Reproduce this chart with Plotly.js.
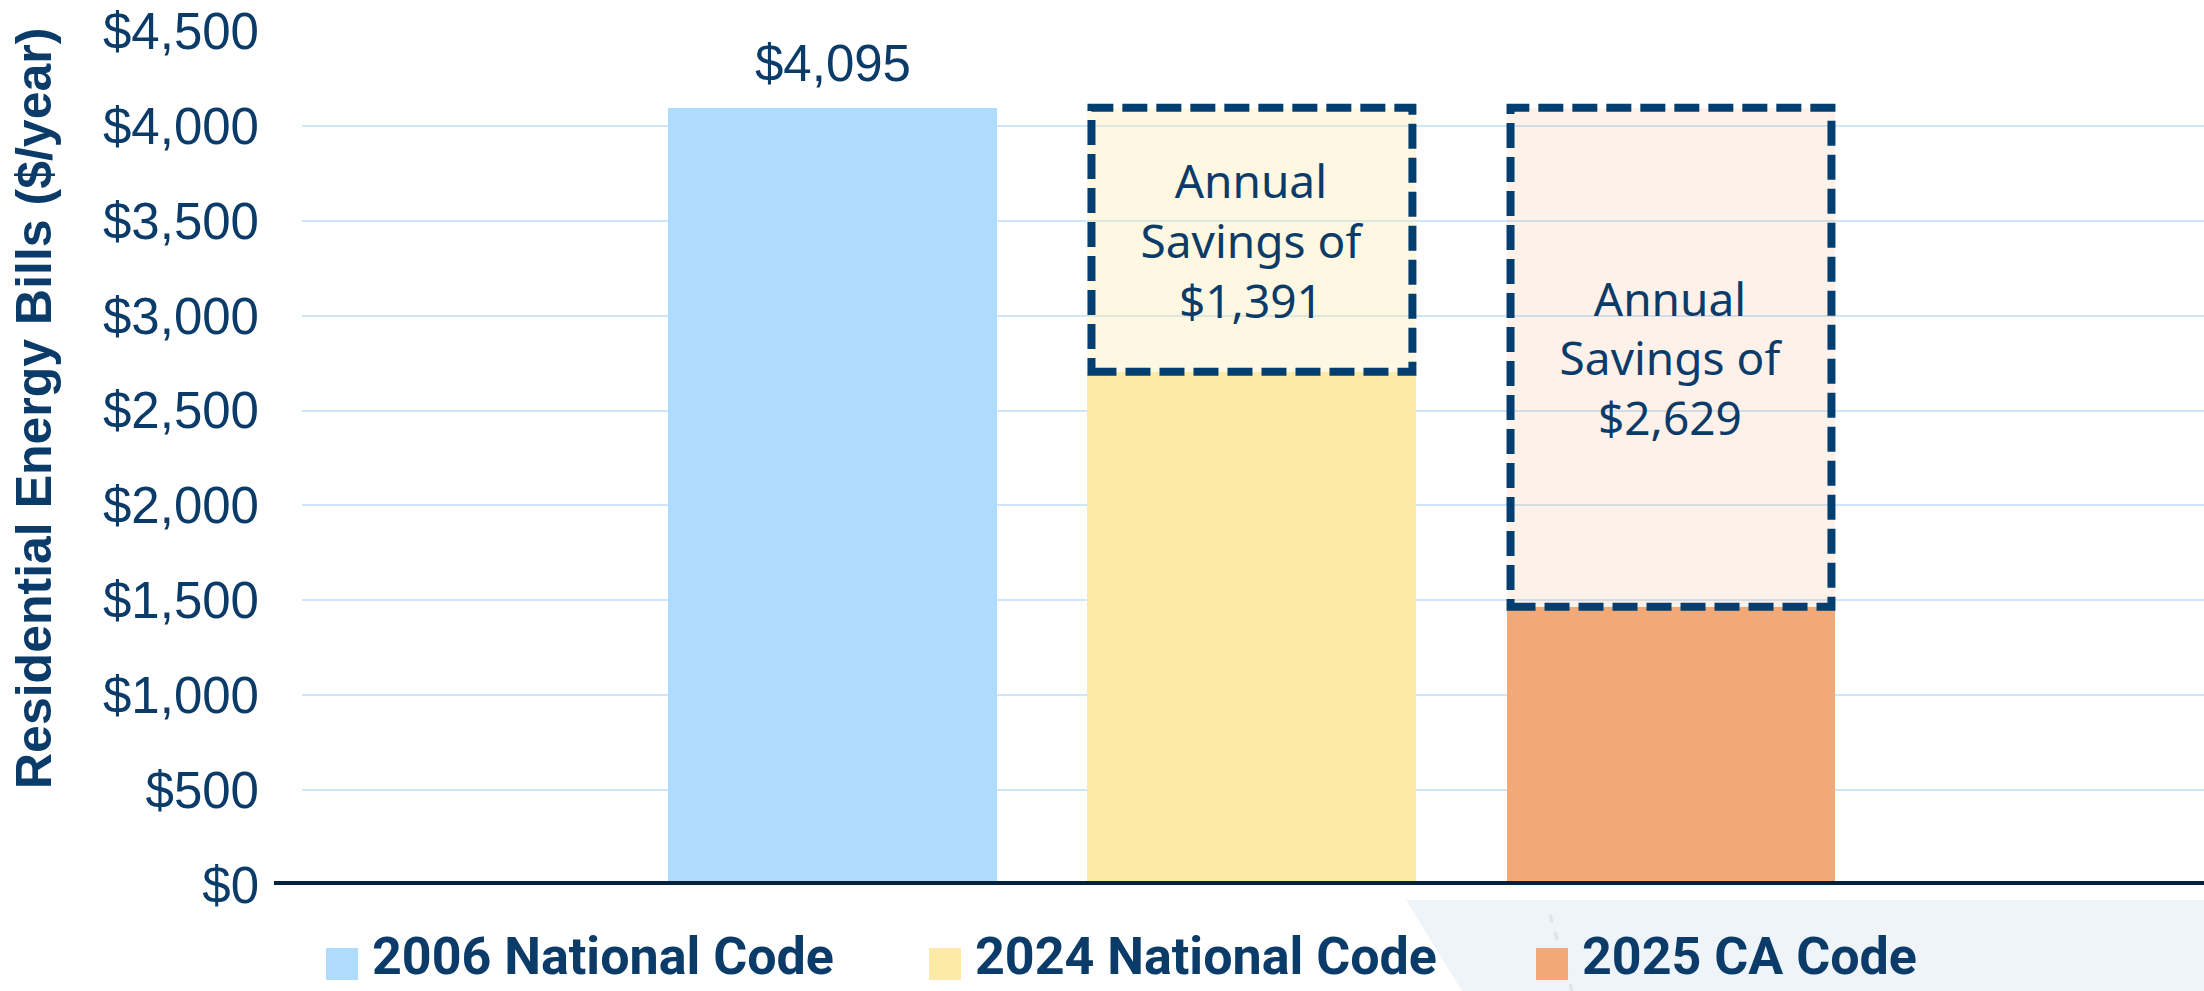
<!DOCTYPE html>
<html><head><meta charset="utf-8">
<script src="https://cdn.plot.ly/plotly-3.0.1.min.js"></script>
<style>html,body{margin:0;padding:0;background:#fff;overflow:hidden}#chart{width:2204px;height:991px;}</style>
</head><body><div id="chart"></div>
<script>
// ---- data ----
const categories = ['2006 National Code', '2024 National Code', '2025 CA Code'];
const annualBills = [4095, 2704, 1466];
const baselineBill = 4095;
const savings = [0, 1391, 2629];
const yTickVals = [0, 500, 1000, 1500, 2000, 2500, 3000, 3500, 4000, 4500];
const yTickText = ['$0', '$500', '$1,000', '$1,500', '$2,000', '$2,500', '$3,000', '$3,500', '$4,000', '$4,500'];
const yTitle = 'Residential Energy Bills ($/year)';
const barColors = ['#AFDBFD', '#FDEAA7', '#F3A878'];
const savingsFill = ['rgba(255,255,255,0)', 'rgba(253,234,166,0.32)', 'rgba(243,168,119,0.16)'];

// ---- geometry / style ----
const W = 2204, H = 991;
const M = {l: 302, r: 0, t: 31, b: 106};
const PW = W - M.l - M.r, PH = H - M.t - M.b;
const px = x => (x - M.l) / PW;
const py = y => (H - M.b - y) / PH;
const navy = '#0B3B68';
const dashNavy = '#023F70';
const bargap = 0.215;
const hw = (1 - bargap) / 2;
const xRange = [-1.267, 3.272];
const fmt = v => '$' + v.toLocaleString('en-US');

const traces = [
  {type: 'bar', x: categories, y: annualBills, marker: {color: barColors, line: {width: 0}},
   showlegend: false, hoverinfo: 'x+y'},
  {type: 'bar', x: categories, y: savings, marker: {color: savingsFill, line: {width: 0}},
   text: savings.map(v => v > 0 ? 'Annual<br>Savings of<br>' + fmt(v) : ''),
   textposition: 'inside', insidetextanchor: 'middle', constraintext: 'none', textangle: 0,
   textfont: {family: 'Noto Sans', size: 46, color: navy},
   showlegend: false, hoverinfo: 'x+y'}
];

const shapes = [];
const annotations = [];

// background decoration (bottom right)
shapes.push({type: 'path', xref: 'paper', yref: 'paper', layer: 'below',
  path: `M${px(1406)},${py(900)} L${px(2204)},${py(900)} L${px(2204)},${py(991)} L${px(1462)},${py(991)} Z`,
  fillcolor: '#EFF4F9', line: {width: 0}});
shapes.push({type: 'line', xref: 'paper', yref: 'paper', layer: 'below',
  x0: px(1550), y0: py(915), x1: px(1572), y1: py(991),
  line: {color: '#DDE3E9', width: 3, dash: '8px,10px'}});

// dashed savings boxes
const inset = 4 / (PW / (xRange[1] - xRange[0]));
savings.forEach((v, i) => {
  if (v <= 0) return;
  shapes.push({type: 'rect', xref: 'x', yref: 'y', layer: 'above',
    x0: i - hw + inset, x1: i + hw - inset, y0: annualBills[i], y1: baselineBill,
    line: {color: dashNavy, width: 8, dash: '25px,9px'}, fillcolor: 'rgba(0,0,0,0)'});
});

// zero line
shapes.push({type: 'line', xref: 'paper', yref: 'y', layer: 'above',
  x0: px(274), x1: 1, y0: 0, y1: 0, line: {color: '#04223D', width: 8}});

// value label
annotations.push({xref: 'x', yref: 'y', x: categories[0], y: annualBills[0], yanchor: 'bottom',
  yshift: 14, showarrow: false, text: fmt(annualBills[0]),
  font: {family: 'Liberation Sans, Arial', size: 51, color: navy}});

// y title
annotations.push({xref: 'paper', yref: 'paper', x: px(34), y: py(409), xanchor: 'center', yanchor: 'middle',
  textangle: -90, showarrow: false, text: '<b>' + yTitle + '</b>',
  font: {family: 'Liberation Sans, Arial', size: 50, color: navy}});

// custom legend
const legSq = [326, 929, 1536];
const legTx = [370, 973, 1580];
categories.forEach((c, i) => {
  shapes.push({type: 'rect', xref: 'paper', yref: 'paper',
    x0: px(legSq[i]), x1: px(legSq[i] + 32), y0: py(980), y1: py(948),
    fillcolor: barColors[i], line: {width: 0}});
  annotations.push({xref: 'paper', yref: 'paper', x: px(legTx[i]), y: py(989),
    xanchor: 'left', yanchor: 'bottom', showarrow: false, text: '<b>' + c + '</b>',
    font: {family: 'Roboto', size: 52, color: navy}});
});

const layout = {
  width: W, height: H, margin: M,
  paper_bgcolor: '#ffffff', plot_bgcolor: '#ffffff',
  barmode: 'stack', bargap: bargap,
  showlegend: false,
  xaxis: {type: 'category', range: xRange, showticklabels: false, showgrid: false,
          zeroline: false, showline: false, ticks: '', fixedrange: true},
  yaxis: {range: [0, 4500], tickvals: yTickVals, ticktext: yTickText, showgrid: true,
          gridcolor: '#CDE6FB', gridwidth: 2, zeroline: false, showline: false, ticks: '',
          ticklabelstandoff: 42,
          tickfont: {family: 'Liberation Sans, Arial', size: 51, color: navy}, fixedrange: true},
  shapes: shapes, annotations: annotations
};

Plotly.newPlot('chart', traces, layout, {displayModeBar: false, staticPlot: true});
</script>
</body></html>
